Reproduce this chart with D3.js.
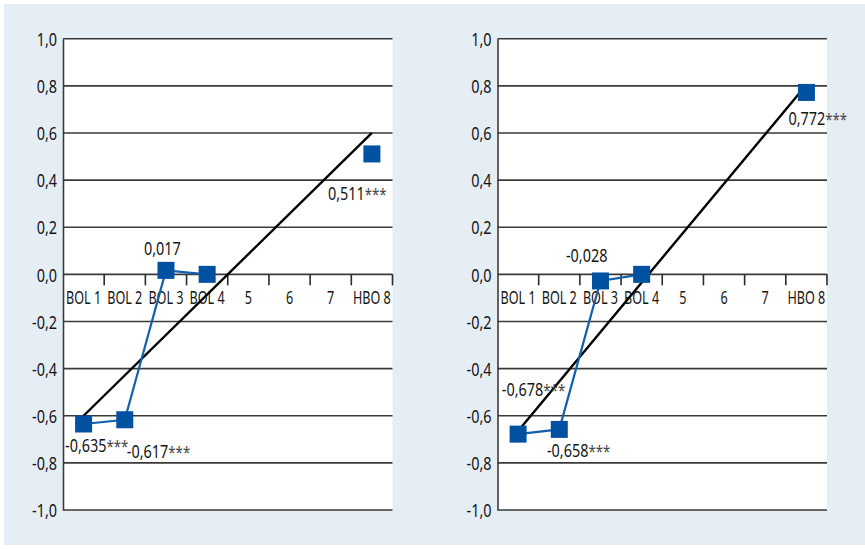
<!DOCTYPE html>
<html>
<head>
<meta charset="utf-8">
<script src="https://cdn.jsdelivr.net/npm/d3@7"></script>
<style>
  html, body { margin: 0; padding: 0; background: #ffffff; }
  svg { display: block; }
  text { font-family: "Noto Sans", "Open Sans", sans-serif; fill: #151515; }
</style>
</head>
<body>
<svg id="chart" width="865" height="549"></svg>
<script>
// ---- data ----
const categories = ["BOL 1", "BOL 2", "BOL 3", "BOL 4", "5", "6", "7", "HBO 8"];
const yTicks = [1.0, 0.8, 0.6, 0.4, 0.2, 0.0, -0.2, -0.4, -0.6, -0.8, -1.0];

const leftValues  = [-0.635, -0.617, 0.017, 0.000, null, null, null, 0.511];
const leftLabels  = ["-0,635***", "-0,617***", "0,017", "", "", "", "", "0,511***"];
const leftTrend   = [-0.60, 0.60];   // trend line at BOL 1 and HBO 8

const rightValues = [-0.678, -0.658, -0.028, 0.000, null, null, null, 0.772];
const rightLabels = ["-0,678***", "-0,658***", "-0,028", "", "", "", "", "0,772***"];
const rightTrend  = [-0.665, 0.805];

// ---- drawing ----
const svg = d3.select("#chart");
svg.append("rect").attr("x", 4).attr("y", 4).attr("width", 861).attr("height", 541).attr("fill", "#e5edf5");

const fmt = v => d3.format(".1f")(v).replace(".", ",").replace("−", "-");
const NUM_SIZE = 18.5, NUM_F = 0.78, CAT_SIZE = 18, CAT_F = 0.70;

// condensed text: placed at (x,y) and squeezed horizontally
function ctext(parent, x, y, f) {
  return parent.append("text").attr("transform", `translate(${x},${y}) scale(${f},1)`);
}

function panel(left, values, labels, trend, labelOffsets) {
  const top = 38.7, bottom = 510, width = 329.5;
  const x = d3.scaleBand().domain(categories).range([left, left + width]).padding(0);
  const y = d3.scaleLinear().domain([-1, 1]).range([bottom, top]);
  const g = svg.append("g");

  g.append("rect").attr("x", left).attr("y", top).attr("width", width).attr("height", bottom - top).attr("fill", "#ffffff");

  // gridlines
  g.append("g").selectAll("line").data(yTicks).join("line")
    .attr("x1", left).attr("x2", left + width)
    .attr("y1", d => y(d)).attr("y2", d => y(d))
    .attr("stroke", "#3a3a3a").attr("stroke-width", 1.6);

  // y axis
  const yAxis = d3.axisLeft(y).tickValues(yTicks).tickSize(0).tickPadding(6).tickFormat(fmt);
  const ya = g.append("g").attr("transform", `translate(${left},0)`).call(yAxis);
  ya.select(".domain").attr("stroke", "#3a3a3a").attr("stroke-width", 1.6);
  ya.selectAll(".tick text")
    .attr("font-size", NUM_SIZE).attr("fill", "#151515")
    .style("font-family", "'Noto Sans', 'Open Sans', sans-serif")
    .attr("x", null).attr("dy", "0.36em")
    .attr("transform", `translate(-6,0) scale(${NUM_F},1)`);

  // category ticks on zero line
  const bounds = categories.map((c) => x(c) + x.bandwidth());
  g.append("g").selectAll("line").data(bounds).join("line")
    .attr("x1", d => d).attr("x2", d => d)
    .attr("y1", y(0)).attr("y2", y(0) + 11)
    .attr("stroke", "#2a2a2a").attr("stroke-width", 1.6);

  // category labels
  categories.forEach(c => {
    ctext(g, x(c) + x.bandwidth() / 2, y(0) + 29.5, CAT_F)
      .attr("text-anchor", "middle").attr("font-size", CAT_SIZE).text(c);
  });

  const cx = (i) => x(categories[i]) + x.bandwidth() / 2;

  // trend line
  const trendPts = [[cx(0), y(trend[0])], [cx(categories.length - 1), y(trend[1])]];
  g.append("path").attr("d", d3.line()(trendPts))
    .attr("stroke", "#000000").attr("stroke-width", 2.4).attr("fill", "none");

  // data line (BOL 1–4)
  const pts = values.map((v, i) => ({ i, v }));
  const line = d3.line().defined(d => d.v !== null).x(d => cx(d.i)).y(d => y(d.v));
  g.append("path").attr("d", line(pts.slice(0, 4)))
    .attr("stroke", "#1160ad").attr("stroke-width", 2.2).attr("fill", "none");

  // markers
  const s = 17;
  g.append("g").selectAll("rect").data(pts.filter(d => d.v !== null)).join("rect")
    .attr("x", d => cx(d.i) - s / 2).attr("y", d => y(d.v) - s / 2)
    .attr("width", s).attr("height", s).attr("fill", "#00519f");

  // value labels
  pts.forEach(d => {
    const lab = labels[d.i];
    if (!lab || d.v === null) return;
    const off = labelOffsets[d.i];
    const t = ctext(g, cx(d.i) + off[0], y(d.v) + off[1], NUM_F).attr("font-size", NUM_SIZE);
    const m = lab.match(/^([^*]*)(\**)$/);
    t.append("tspan").text(m[1]);
    if (m[2]) t.append("tspan").attr("font-size", 17).attr("fill", "#444").text(m[2]);
  });
}

panel(63, leftValues, leftLabels, leftTrend,
  [[-18.6, 28], [2, 38], [-22, -15], [0, 0], [0,0],[0,0],[0,0], [-44, 45.6]]);
panel(497.5, rightValues, rightLabels, rightTrend,
  [[-16.3, -38], [-12.4, 28], [-34.5, -18.6], [0, 0], [0,0],[0,0],[0,0], [-18, 33]]);
</script>
</body>
</html>
